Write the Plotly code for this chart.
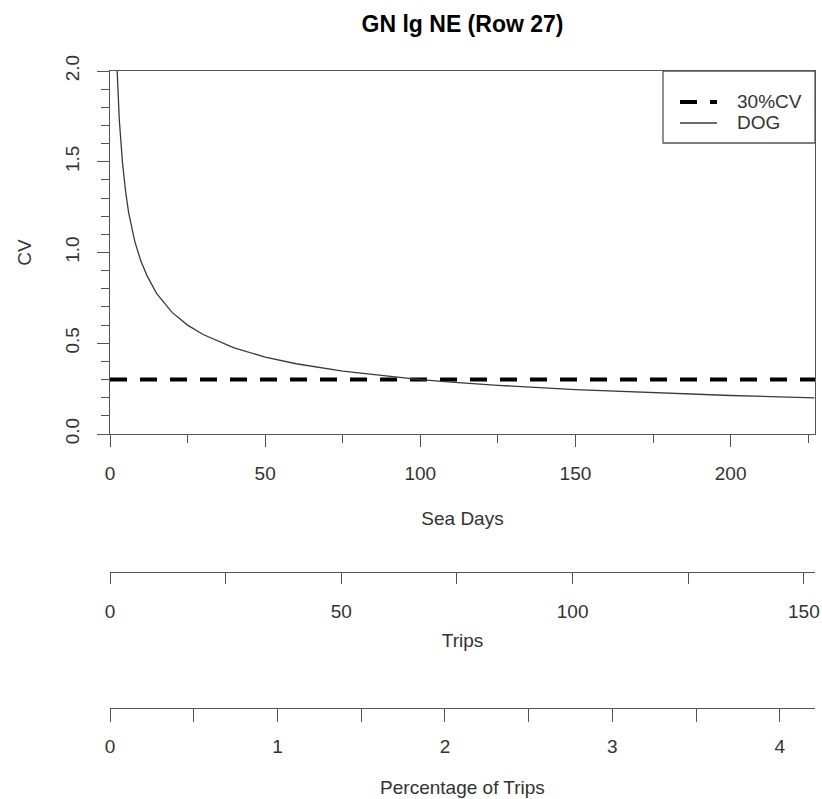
import plotly.graph_objects as go

# ---- data ----
sea_days = [1.5, 2, 3, 4, 5, 6, 8, 10, 12, 15, 20, 25, 30, 40, 50, 60, 75,
            90, 100, 110, 125, 150, 175, 200, 227]
cv_dog = [2.45, 2.12, 1.73, 1.50, 1.34, 1.22, 1.06, 0.95, 0.87, 0.775, 0.67,
          0.60, 0.548, 0.474, 0.424, 0.387, 0.346, 0.316, 0.30, 0.286, 0.268,
          0.245, 0.227, 0.212, 0.199]
cv_target = 0.3
sea_days_max = 227.2
trips_max = 152.4
pct_trips_max = 4.21

sea_ticks = [0, 50, 100, 150, 200]
trip_ticks = [0, 25, 50, 75, 100, 125, 150]
trip_labels = ["0", "", "50", "", "100", "", "150"]
pct_ticks = [0, 0.5, 1, 1.5, 2, 2.5, 3, 3.5, 4]
pct_labels = ["0", "", "1", "", "2", "", "3", "", "4"]
cv_ticks = [0, 0.5, 1.0, 1.5, 2.0]
cv_labels = ["0.0", "0.5", "1.0", "1.5", "2.0"]
legend_names = ["30%CV", "DOG"]

FONT = "Liberation Sans, Arial, sans-serif"
AX = "#555555"
TXT = "#333333"
FS = 19
DASH = "17px,13px"

W, HT = 822, 799
L, R, T, B = 110, 7, 71, 0
PW = W - L - R
PH = HT - T - B


def px_x(p):
    return (p - L) / PW


def px_y(p):
    return (HT - B - p) / PH


fig = go.Figure()
fig.add_trace(go.Scatter(
    x=[0, sea_days_max], y=[cv_target, cv_target], mode="lines",
    name=legend_names[0], showlegend=False,
    line=dict(color="black", width=4, dash=DASH), hoverinfo="skip"))
fig.add_trace(go.Scatter(
    x=sea_days, y=cv_dog, mode="lines", name=legend_names[1], showlegend=False,
    line=dict(color="#3a3a3a", width=1.3), hoverinfo="skip"))
# carriers for the secondary scales
fig.add_trace(go.Scatter(x=[0, trips_max], y=[-1, -1], xaxis="x2", mode="lines",
                         opacity=0, showlegend=False, hoverinfo="skip"))
fig.add_trace(go.Scatter(x=[0, pct_trips_max], y=[-1, -1], xaxis="x3", mode="lines",
                         opacity=0, showlegend=False, hoverinfo="skip"))

common = dict(showgrid=False, zeroline=False, showline=True, linecolor=AX,
              linewidth=1.3, ticks="outside", tickcolor=AX, tickwidth=1.3,
              automargin=False,
              tickfont=dict(family=FONT, size=FS, color=TXT))

# legend box drawn in the top-right corner of the plot
shapes = [
    dict(type="rect", xref="paper", yref="paper", x0=px_x(663), x1=1,
         y0=px_y(143), y1=1, line=dict(color=AX, width=1.3), fillcolor="white",
         layer="above"),
    dict(type="line", xref="paper", yref="paper", x0=px_x(680), x1=px_x(717),
         y0=px_y(102), y1=px_y(102), line=dict(color="black", width=4, dash=DASH),
         layer="above"),
    dict(type="line", xref="paper", yref="paper", x0=px_x(680), x1=px_x(717),
         y0=px_y(123), y1=px_y(123), line=dict(color="#3a3a3a", width=1.3),
         layer="above"),
]
annotations = [
    dict(text=legend_names[0], xref="paper", yref="paper", x=px_x(735),
         y=px_y(102), xanchor="left", yanchor="middle", showarrow=False,
         font=dict(family=FONT, size=FS, color=TXT)),
    dict(text=legend_names[1], xref="paper", yref="paper", x=px_x(735),
         y=px_y(123), xanchor="left", yanchor="middle", showarrow=False,
         font=dict(family=FONT, size=FS, color=TXT)),
]

fig.update_layout(
    width=W, height=HT,
    margin=dict(l=L, r=R, t=T, b=B, autoexpand=False),
    paper_bgcolor="white", plot_bgcolor="white",
    font=dict(family=FONT, size=FS, color=TXT),
    showlegend=False,
    shapes=shapes, annotations=annotations,
    title=dict(text="<b>GN lg NE (Row 27)</b>", x=(110 + 815) / 2 / W,
               xanchor="center", y=1 - 24 / HT, yanchor="middle",
               font=dict(family=FONT, size=23, color="black")),
    xaxis=dict(**common, range=[0, sea_days_max], domain=[0, 1], mirror=True,
               tickvals=sea_ticks, ticklen=12, ticklabelstandoff=10,
               minor=dict(dtick=25, tick0=0, ticks="outside", ticklen=8,
                          tickcolor=AX, tickwidth=1.3, showgrid=False),
               title=dict(text="Sea Days", standoff=28,
                          font=dict(family=FONT, size=FS, color=TXT))),
    yaxis=dict(**common, range=[0, 2.0], domain=[px_y(434), 1], mirror=True,
               tickvals=cv_ticks, ticktext=cv_labels, tickangle=-90, ticklen=12,
               ticklabelstandoff=10,
               minor=dict(dtick=0.1, tick0=0, ticks="outside", ticklen=8,
                          tickcolor=AX, tickwidth=1.3, showgrid=False),
               title=dict(text="CV", standoff=25,
                          font=dict(family=FONT, size=FS, color=TXT))),
    xaxis2=dict(**common, range=[0, trips_max], overlaying="x", anchor="free",
                position=px_y(572), side="bottom", tickvals=trip_ticks,
                ticktext=trip_labels, ticklen=11, ticklabelstandoff=11,
                title=dict(text="Trips", standoff=12,
                           font=dict(family=FONT, size=FS, color=TXT))),
    xaxis3=dict(**common, range=[0, pct_trips_max], overlaying="x", anchor="free",
                position=px_y(708), side="bottom", tickvals=pct_ticks,
                ticktext=pct_labels, ticklen=13, ticklabelstandoff=8,
                title=dict(text="Percentage of Trips", standoff=24,
                           font=dict(family=FONT, size=FS, color=TXT))),
)

fig.write_html(
    "out.html",
    config={"displayModeBar": False},
    post_script="document.body.style.margin='0';document.body.style.padding='0';",
)
